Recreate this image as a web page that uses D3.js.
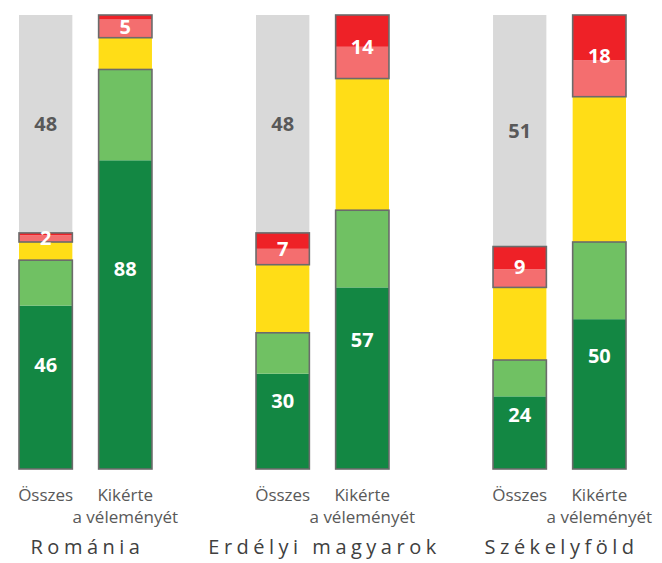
<!DOCTYPE html>
<html>
<head>
<meta charset="utf-8">
<script src="https://cdn.jsdelivr.net/npm/d3@7"></script>
<style>
    body { margin: 0; background: #ffffff; }
    svg { display: block; }
</style>
</head>
<body>
<script>

// groups and the two bars in each group
var groups = ["Románia", "Erdélyi magyarok", "Székelyföld"],
    bars = ["Összes", "Kikérte"],
    barLines = [["Összes"], ["Kikérte", "a véleményét"]];

// segment values (percent), one value per bar, bars in group order
var darkGreen  = [36, 68, 21, 40, 16, 33],
    lightGreen = [10, 20,  9, 17,  8, 17],
    yellow     = [ 4,  7, 15, 29, 16, 32],
    lightRed   = [1.5, 4, 3.5, 7,  4,  8],
    darkRed    = [0.5, 1, 3.5, 7,  5, 10],
    grey       = [48,  0, 48,  0, 51,  0];

var colors = {
    darkGreen: "#138743",
    lightGreen: "#70c163",
    yellow: "#ffdd17",
    lightRed: "#f46e6f",
    darkRed: "#ee2127",
    grey: "#d9d9d9"
};

var keys = ["darkGreen", "lightGreen", "yellow", "lightRed", "darkRed", "grey"],
    series = {darkGreen: darkGreen, lightGreen: lightGreen, yellow: yellow,
              lightRed: lightRed, darkRed: darkRed, grey: grey};

// one row per bar
var dataset = [];
for(let g = 0 ; g < groups.length ; g++)
{
    for(let b = 0 ; b < bars.length ; b++)
    {
        let i = g * bars.length + b;
        let row = {"group": groups[g], "bar": bars[b], "lines": barLines[b]};
        keys.forEach(function(k) { row[k] = series[k][i]; });
        dataset.push(row);
    }
}

var width = 662,
    height = 563;

var svg = d3.select("body").append("svg")
    .attr("width", width)
    .attr("height", height);

// scales
var x0 = d3.scaleBand()
    .domain(groups)
    .range([19, 626])
    .paddingInner(0.439)
    .paddingOuter(0);

var x1 = d3.scaleBand()
    .domain(bars)
    .range([0, x0.bandwidth()])
    .paddingInner(0.33)
    .paddingOuter(0);

var y = d3.scaleLinear()
    .domain([0, 100])
    .range([469, 15]);

var stacked = d3.stack().keys(keys)(dataset);

// draw the segments
svg.append("g").selectAll("g")
    .data(stacked)
    .enter().append("g")
        .attr("fill", function(d) { return colors[d.key]; })
    .selectAll("rect")
    .data(function(d) { return d; })
    .enter().append("rect")
        .attr("x", function(d) { return x0(d.data.group) + x1(d.data.bar); })
        .attr("y", function(d) { return y(d[1]); })
        .attr("width", x1.bandwidth())
        .attr("height", function(d) { return y(d[0]) - y(d[1]); });

// outlined boxes: greens together, reds together
var boxes = [];
dataset.forEach(function(d) {
    let green = d.darkGreen + d.lightGreen,
        red = d.lightRed + d.darkRed,
        redStart = green + d.yellow;
    boxes.push({"d": d, "from": 0, "to": green, "value": green, "kind": "green"});
    boxes.push({"d": d, "from": redStart, "to": redStart + red, "value": red, "kind": "red"});
    if(d.grey > 0)
    {
        boxes.push({"d": d, "from": redStart + red, "to": redStart + red + d.grey,
                    "value": d.grey, "kind": "grey"});
    }
});

svg.append("g").selectAll("rect")
    .data(boxes.filter(function(b) { return b.kind != "grey"; }))
    .enter().append("rect")
        .attr("x", function(b) { return x0(b.d.group) + x1(b.d.bar); })
        .attr("y", function(b) { return y(b.to); })
        .attr("width", x1.bandwidth())
        .attr("height", function(b) { return y(b.from) - y(b.to); })
        .attr("fill", "none")
        .attr("stroke", "#6b6b6b")
        .attr("stroke-width", 1.6);

// value labels
svg.append("g").selectAll("text")
    .data(boxes)
    .enter().append("text")
        .attr("x", function(b) { return x0(b.d.group) + x1(b.d.bar) + x1.bandwidth() / 2; })
        .attr("y", function(b) { return (y(b.from) + y(b.to)) / 2; })
        .attr("dy", "0.36em")
        .attr("text-anchor", "middle")
        .style("font-family", "'Open Sans', sans-serif")
        .style("font-weight", "bold")
        .style("font-size", "20px")
        .attr("fill", function(b) { return b.kind == "grey" ? "#595959" : "#ffffff"; })
        .text(function(b) { return Math.round(b.value); });

// bar labels under the bars
var barLabels = svg.append("g").selectAll("text")
    .data(dataset)
    .enter().append("text")
        .attr("x", function(d) { return x0(d.group) + x1(d.bar) + x1.bandwidth() / 2; })
        .attr("y", 501)
        .attr("text-anchor", "middle")
        .style("font-family", "'Open Sans', sans-serif")
        .style("font-size", "17px")
        .attr("fill", "#595959");

barLabels.selectAll("tspan")
    .data(function(d) { return d.lines; })
    .enter().append("tspan")
        .attr("x", function() { return d3.select(this.parentNode).attr("x"); })
        .attr("dy", function(d, i) { return i == 0 ? 0 : 22; })
        .text(function(d) { return d; });

// group titles
svg.append("g").selectAll("text")
    .data(groups)
    .enter().append("text")
        .attr("x", function(d) { return x0(d) + x0.bandwidth() / 2 + 2; })
        .attr("y", 554)
        .attr("text-anchor", "middle")
        .style("font-family", "'Open Sans', sans-serif")
        .style("font-size", "20px")
        .style("letter-spacing", "4.5px")
        .attr("fill", "#404040")
        .text(function(d) { return d; });

</script>
</body>
</html>
